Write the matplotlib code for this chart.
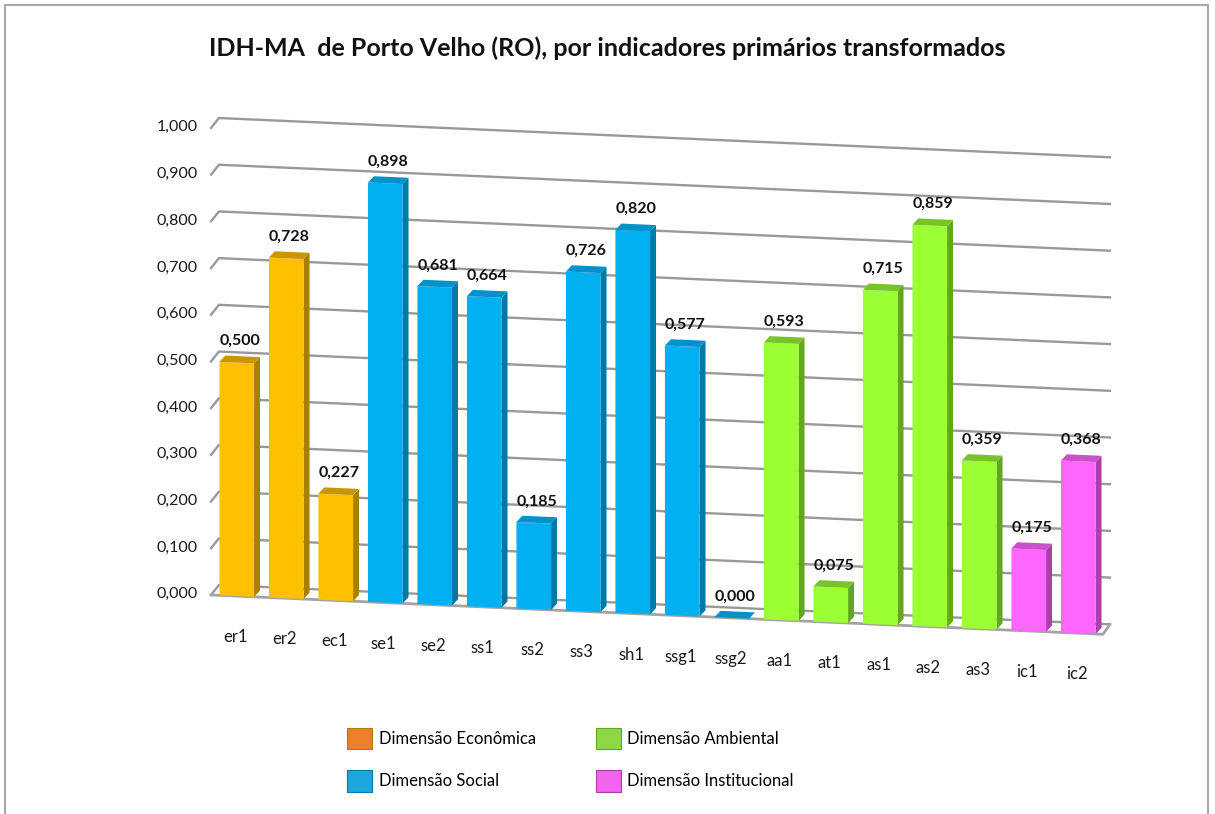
import matplotlib
matplotlib.use("Agg")
import matplotlib.pyplot as plt
import matplotlib.transforms as mtransforms
import numpy as np
from matplotlib.patches import Patch, Polygon, Rectangle

# Chart data
categories = ["er1", "er2", "ec1", "se1", "se2", "ss1", "ss2", "ss3", "sh1",
              "ssg1", "ssg2", "aa1", "at1", "as1", "as2", "as3", "ic1", "ic2"]
values = [0.500, 0.728, 0.227, 0.898, 0.681, 0.664, 0.185, 0.726, 0.820,
          0.577, 0.000, 0.593, 0.075, 0.715, 0.859, 0.359, 0.175, 0.368]
dimension = ["eco"] * 3 + ["soc"] * 8 + ["amb"] * 5 + ["inst"] * 2
dimension_labels = {
    "eco": "Dimensão Econômica",
    "soc": "Dimensão Social",
    "amb": "Dimensão Ambiental",
    "inst": "Dimensão Institucional",
}
y_ticks = np.round(np.arange(0, 1.0001, 0.1), 3)

# front / side / top shades for the pseudo-3D bars, plus legend swatch colour
palette = {
    "eco": ("#FFC000", "#A97F00", "#C79600", "#EC7E2C"),
    "soc": ("#00B0F0", "#0079A6", "#0092C8", "#1CA6DC"),
    "amb": ("#9BFF33", "#62A81E", "#78C428", "#8FD845"),
    "inst": ("#FF66FF", "#AD3DAD", "#CC4FCC", "#F064F0"),
}

plt.rcParams["font.family"] = ["Lato", "DejaVu Sans"]

W, H = 1215, 814
fig = plt.figure(figsize=(W / 100, H / 100), dpi=100)
ax = fig.add_axes([212 / W, (H - 595) / H, 891 / W, 467 / H])
ax.set_xlim(-0.5, 17.5)
ax.set_ylim(0, 1)
ax.axis("off")

# the floor slopes down to the right: shear the data coordinates
K = 0.00467
shear = mtransforms.Affine2D(np.array([[1, 0, 0], [-K, 1, -0.5 * K], [0, 0, 1]]))
trans = shear + ax.transData

BAR_W = 0.70
BAR_DX, BAR_DY = 0.12, 0.014      # bar depth
WALL_DX, WALL_DY = 0.16, 0.022    # back wall offset
X_LEFT = -0.52
X_RIGHT = 17.5

# gridlines on left + back wall
for v in y_ticks:
    ax.plot([X_LEFT, X_LEFT + WALL_DX, X_RIGHT + WALL_DX - 0.02],
            [v, v + WALL_DY, v + WALL_DY],
            color="#999999", lw=1.7, transform=trans, clip_on=False, zorder=1)
    ax.text(X_LEFT - 0.27, v, f"{v:.3f}".replace(".", ","), transform=trans,
            ha="right", va="center", fontsize=11.5, color="#1a1a1a")

# floor edges
ax.plot([X_LEFT, X_RIGHT, X_RIGHT + WALL_DX - 0.02], [0, 0, WALL_DY],
        color="#a3a3a3", lw=2.0, transform=trans, clip_on=False, zorder=2)

# bars
for i, (cat, v, dim) in enumerate(zip(categories, values, dimension)):
    front_c, side_c, top_c, _ = palette[dim]
    x0, x1 = i - BAR_W / 2, i + BAR_W / 2
    front = [(x0, 0), (x1, 0), (x1, v), (x0, v)]
    side = [(x1, 0), (x1 + BAR_DX, BAR_DY), (x1 + BAR_DX, v + BAR_DY), (x1, v)]
    top = [(x0, v), (x1, v), (x1 + BAR_DX, v + BAR_DY), (x0 + BAR_DX, v + BAR_DY)]
    for pts, c in ((side, side_c), (front, front_c), (top, top_c)):
        ax.add_patch(Polygon(pts, closed=True, facecolor=c, edgecolor="none",
                             transform=trans, clip_on=False, zorder=3))
    ax.text(i + BAR_DX / 2, v + BAR_DY + 0.017, f"{v:.3f}".replace(".", ","),
            transform=trans, ha="center", va="bottom", fontsize=11.5,
            fontweight="bold", color="#111111", zorder=5)
    ax.text(i - 0.03, -0.088, cat, transform=trans, ha="center", va="center",
            fontsize=12, color="#1a1a1a")

fig.text(0.5, 1 - 48 / H, "IDH-MA  de Porto Velho (RO), por indicadores primários transformados",
         ha="center", va="center", fontsize=18, fontweight="bold", color="#111111")

handles = [Patch(facecolor=palette[d][3], edgecolor=palette[d][1], linewidth=0.8)
           for d in ["eco", "soc", "amb", "inst"]]
fig.legend(handles, [dimension_labels[d] for d in ["eco", "soc", "amb", "inst"]],
           ncol=2, loc="upper left", bbox_to_anchor=(347 / W, 1 - 728 / H),
           frameon=False, fontsize=12, handlelength=1.5, handleheight=1.6,
           handletextpad=0.4, columnspacing=3.6, labelspacing=1.25,
           borderpad=0, borderaxespad=0)

# chart area border
fig.patches.append(Rectangle((5 / W, -0.05), 1203 / W, 1.05 - 5 / H, transform=fig.transFigure,
                             fill=False, edgecolor="#a8a8a8", lw=1.5))

fig.savefig("out.png", dpi=100)
